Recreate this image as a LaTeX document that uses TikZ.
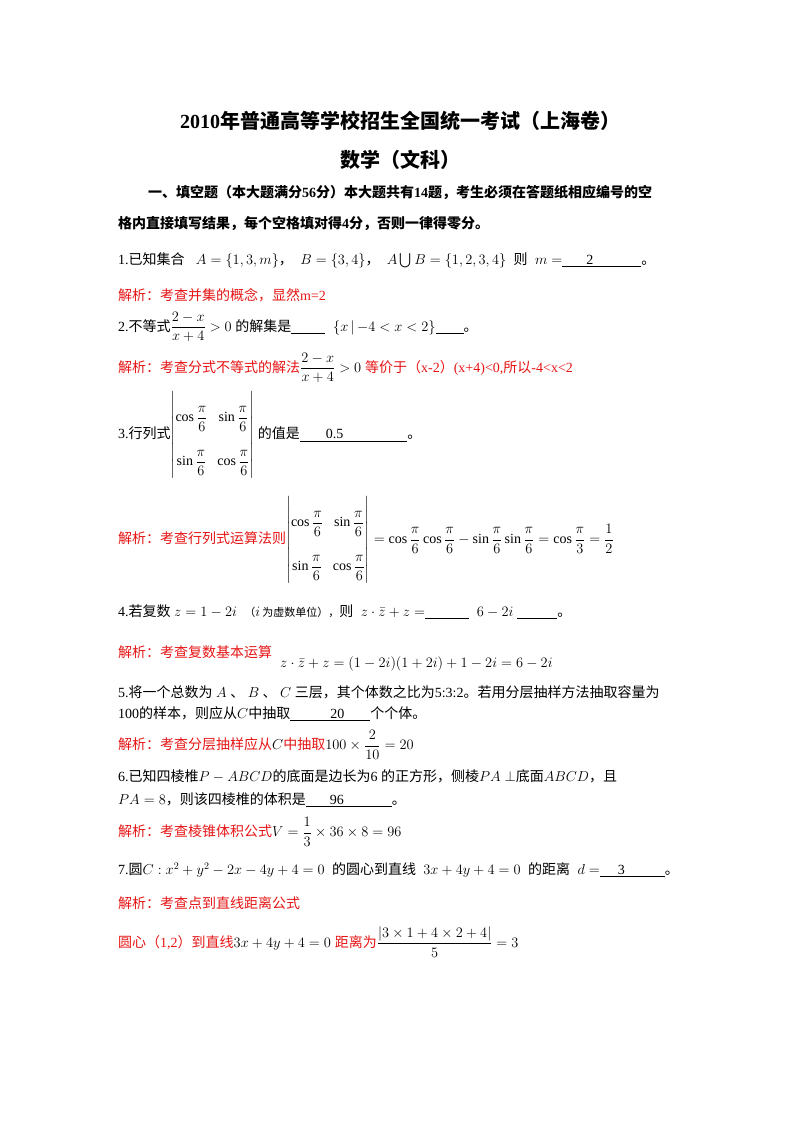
\documentclass[tikz,border=0pt]{standalone}
\usepackage{amsmath}
\usepackage{fontspec}
\setmainfont{Liberation Serif}
\newfontfamily\cj{Noto Sans CJK SC}
\definecolor{ans}{RGB}{230,20,20}
\begin{document}
\begin{tikzpicture}[x=1pt,y=-1pt,
  txt/.style={anchor=west,inner sep=0pt,font=\fontsize{14}{17}\selectfont},
  red/.style={txt,text=ans},
  ttl/.style={inner sep=0pt,font=\fontsize{20}{24}\selectfont\bfseries}]
\useasboundingbox (0,0) rectangle (800,1132);
\node[ttl] (t1) at (400,121) {2010{\cj\bfseries 年普通高等学校招生全国统一考试（上海卷）}};
\node[ttl] (t2) at (400,160) {{\cj\bfseries 数学（文科）}};
\node[txt] (h1) at (148,193) {{\cj\bfseries 一、填空题（本大题满分}\textbf{56}{\cj\bfseries 分）本大题共有}\textbf{14}{\cj\bfseries 题，考生必须在答题纸相应编号的空}};
\node[txt] (h2) at (118,224) {{\cj\bfseries 格内直接填写结果，每个空格填对得}\textbf{4}{\cj\bfseries 分，否则一律得零分。}};
\node[txt] (q1) at (118,260) {1.{\cj 已知集合}\;\; $A=\{1,3,m\}${\cj ，}\; $B=\{3,4\}${\cj ，}\; $A\bigcup B=\{1,2,3,4\}$\; {\cj 则}\; $m=$\underline{\hspace{24pt}2\hspace{48pt}}{\cj 。}};
\node[red] (a1) at (118,295) {{\cj 解析：考查并集的概念，显然}m=2};
\node[txt] (q2) at (118,327) {2.{\cj 不等式}$\dfrac{2-x}{x+4}>0$ {\cj 的解集是}\underline{\hspace{34pt}}\;\;$\{x\,|\,{-4}<x<2\}$\underline{\hspace{28pt}}{\cj 。}};
\node[red] (a2) at (118,368) {{\cj 解析：考查分式不等式的解法}\textcolor{black}{$\dfrac{2-x}{x+4}>0$}\;{\cj 等价于（}x-2{\cj ）}(x+4)<0,{\cj 所以}-4<x<2};
\node[txt] (q3) at (118,435) {3.{\cj 行列式}$\renewcommand\arraystretch{2.6}\left|\begin{matrix}\cos\dfrac{\pi}{6} & \sin\dfrac{\pi}{6}\\ \sin\dfrac{\pi}{6} & \cos\dfrac{\pi}{6}\end{matrix}\right|$ {\cj 的值是}\underline{\hspace{26pt}0.5\hspace{64pt}}{\cj 。}};
\node[red] (a3) at (118,540) {{\cj 解析：考查行列式运算法则}\textcolor{black}{$\renewcommand\arraystretch{2.6}\left|\begin{matrix}\cos\dfrac{\pi}{6} & \sin\dfrac{\pi}{6}\\ \sin\dfrac{\pi}{6} & \cos\dfrac{\pi}{6}\end{matrix}\right|=\cos\dfrac{\pi}{6}\cos\dfrac{\pi}{6}-\sin\dfrac{\pi}{6}\sin\dfrac{\pi}{6}=\cos\dfrac{\pi}{3}=\dfrac{1}{2}$}};
\node[txt] (q4) at (118,612) {4.{\cj 若复数} $z=1-2i$\; {\fontsize{11}{13}\selectfont\cj （}$i$\,{\fontsize{11}{13}\selectfont\cj 为虚数单位），}{\cj 则}\; $z\cdot\bar z+z=$\underline{\hspace{44pt}}\;\;$6-2i$\;\underline{\hspace{40pt}}{\cj 。}};
\node[red] (a4) at (118,652) {{\cj 解析：考查复数基本运算}};
\node[txt] (a4m) at (280,664) {$z\cdot\bar z+z=(1-2i)(1+2i)+1-2i=6-2i$};
\node[txt] (q5) at (118,692) {5.{\cj 将一个总数为} $A$ {\cj 、} $B$ {\cj 、} $C$ {\cj 三层，其个体数之比为}5:3:2{\cj 。若用分层抽样方法抽取容量为}};
\node[txt] (q5b) at (118,714) {100{\cj 的样本，则应从}$C${\cj 中抽取}\underline{\hspace{40pt}20\hspace{26pt}}{\cj 个个体。}};
\node[red] (a5) at (118,745) {{\cj 解析：考查分层抽样应从}\textcolor{black}{$C$}{\cj 中抽取}\textcolor{black}{$100\times\dfrac{2}{10}=20$}};
\node[txt] (q6) at (118,776) {6.{\cj 已知四棱椎}$P-ABCD${\cj 的底面是边长为}6 {\cj 的正方形，侧棱}$PA\perp${\cj 底面}$ABCD${\cj ，且}};
\node[txt] (q6b) at (118,800) {$PA=8${\cj ，则该四棱椎的体积是}\underline{\hspace{24pt}96\hspace{48pt}}{\cj 。}};
\node[red] (a6) at (118,832) {{\cj 解析：考查棱锥体积公式}\textcolor{black}{$V=\dfrac{1}{3}\times36\times8=96$}};
\node[txt] (q7) at (118,870) {7.{\cj 圆}$C:x^2+y^2-2x-4y+4=0$\; {\cj 的圆心到直线}\; $3x+4y+4=0$\; {\cj 的距离}\; $d=$\underline{\hspace{18pt}3\hspace{40pt}}{\cj 。}};
\node[red] (a7) at (118,903) {{\cj 解析：考查点到直线距离公式}};
\node[red] (a7b) at (118,942) {{\cj 圆心（}1,2{\cj ）到直线}\textcolor{black}{$3x+4y+4=0$}\;{\cj 距离为}\textcolor{black}{$\dfrac{|3\times1+4\times2+4|}{5}=3$}};
\end{tikzpicture}
\end{document}
